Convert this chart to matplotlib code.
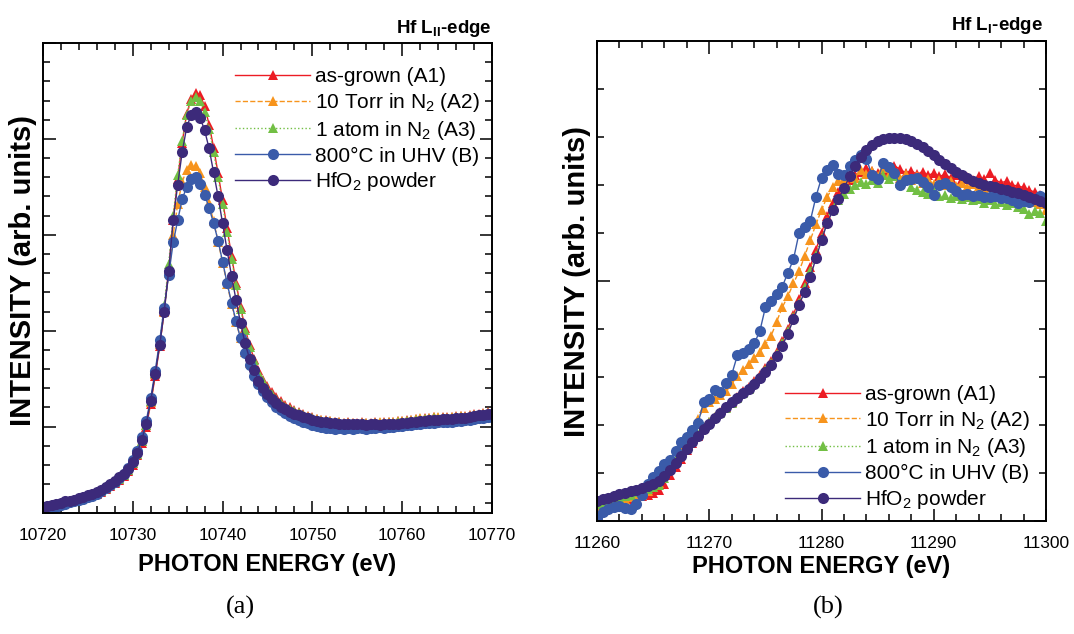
import numpy as np
import matplotlib
matplotlib.use("Agg")
import matplotlib.pyplot as plt
from matplotlib.ticker import MultipleLocator, NullFormatter
from matplotlib import font_manager

plt.rcParams['font.family'] = ['Liberation Sans', 'DejaVu Sans']
plt.rcParams['mathtext.fontset'] = 'custom'
plt.rcParams['mathtext.rm'] = 'Liberation Sans'
plt.rcParams['mathtext.it'] = 'Liberation Sans:italic'
plt.rcParams['mathtext.bf'] = 'Liberation Sans:bold'

# ---------------- data: panel (a) Hf L_II edge ----------------
energy_a = np.arange(10720.0, 10770.01, 0.5)

a1_a = [-0.85, -0.84, -0.83, -0.82, -0.81, -0.80, -0.78, -0.77, -0.76, -0.74,
        -0.73, -0.71, -0.70, -0.68, -0.65, -0.62, -0.59, -0.56, -0.51, -0.46,
        -0.40, -0.30, -0.17, 0.00, 0.24, 0.53, 0.84, 1.21, 1.64, 2.15,
        2.58, 2.96, 3.26, 3.42, 3.48, 3.46, 3.34, 3.15, 2.91, 2.64,
        2.36, 2.07, 1.78, 1.50, 1.25, 1.03, 0.85, 0.71, 0.59, 0.49,
        0.42, 0.36, 0.31, 0.27, 0.23, 0.20, 0.17, 0.15, 0.13, 0.11,
        0.10, 0.08, 0.07, 0.07, 0.06, 0.05, 0.05, 0.04, 0.05, 0.04,
        0.04, 0.05, 0.04, 0.04, 0.05, 0.04, 0.05, 0.05, 0.05, 0.06,
        0.06, 0.07, 0.07, 0.08, 0.08, 0.09, 0.09, 0.10, 0.09, 0.10,
        0.10, 0.10, 0.11, 0.11, 0.11, 0.12, 0.13, 0.13, 0.14, 0.15, 0.15]

a2_a = [-0.84, -0.83, -0.82, -0.81, -0.80, -0.79, -0.77, -0.76, -0.75, -0.73,
        -0.72, -0.70, -0.69, -0.67, -0.64, -0.61, -0.58, -0.54, -0.50, -0.45,
        -0.38, -0.28, -0.15, 0.02, 0.26, 0.55, 0.86, 1.20, 1.60, 2.00,
        2.32, 2.55, 2.68, 2.73, 2.72, 2.64, 2.50, 2.33, 2.14, 1.93,
        1.71, 1.49, 1.28, 1.09, 0.92, 0.78, 0.66, 0.56, 0.48, 0.41,
        0.35, 0.30, 0.26, 0.23, 0.20, 0.17, 0.15, 0.13, 0.11, 0.10,
        0.09, 0.08, 0.07, 0.06, 0.06, 0.05, 0.05, 0.04, 0.04, 0.04,
        0.03, 0.04, 0.04, 0.03, 0.04, 0.05, 0.04, 0.05, 0.05, 0.06,
        0.06, 0.06, 0.07, 0.08, 0.09, 0.08, 0.09, 0.10, 0.10, 0.09,
        0.09, 0.10, 0.10, 0.11, 0.10, 0.11, 0.12, 0.12, 0.13, 0.14, 0.14]

a3_a = [-0.85, -0.84, -0.83, -0.82, -0.81, -0.79, -0.78, -0.77, -0.75, -0.74,
        -0.72, -0.71, -0.69, -0.67, -0.64, -0.61, -0.58, -0.55, -0.50, -0.45,
        -0.38, -0.28, -0.15, 0.02, 0.27, 0.56, 0.88, 1.26, 1.70, 2.20,
        2.62, 2.98, 3.25, 3.40, 3.44, 3.40, 3.28, 3.10, 2.86, 2.60,
        2.32, 2.03, 1.75, 1.48, 1.23, 1.01, 0.83, 0.69, 0.57, 0.48,
        0.40, 0.34, 0.29, 0.25, 0.21, 0.18, 0.16, 0.14, 0.12, 0.10,
        0.09, 0.07, 0.06, 0.06, 0.05, 0.04, 0.04, 0.03, 0.04, 0.03,
        0.03, 0.04, 0.03, 0.03, 0.04, 0.03, 0.04, 0.04, 0.04, 0.05,
        0.05, 0.06, 0.06, 0.07, 0.07, 0.08, 0.08, 0.09, 0.08, 0.09,
        0.09, 0.09, 0.10, 0.10, 0.10, 0.11, 0.12, 0.12, 0.13, 0.14, 0.14]

b_a = [-0.87, -0.86, -0.85, -0.84, -0.82, -0.81, -0.79, -0.78, -0.76, -0.75,
       -0.73, -0.72, -0.70, -0.67, -0.64, -0.61, -0.58, -0.54, -0.49, -0.43,
       -0.35, -0.25, -0.11, 0.06, 0.30, 0.58, 0.90, 1.24, 1.58, 1.92,
       2.15, 2.37, 2.50, 2.58, 2.60, 2.53, 2.42, 2.28, 2.12, 1.94,
       1.72, 1.50, 1.29, 1.10, 0.92, 0.77, 0.64, 0.53, 0.44, 0.37,
       0.31, 0.26, 0.21, 0.17, 0.14, 0.11, 0.09, 0.07, 0.05, 0.04,
       0.02, 0.01, 0.00, -0.01, -0.01, -0.02, -0.01, -0.02, -0.01, -0.02,
       -0.01, -0.01, -0.02, -0.01, -0.01, 0.00, -0.01, 0.00, 0.00, 0.01,
       0.01, 0.02, 0.02, 0.03, 0.03, 0.04, 0.04, 0.04, 0.05, 0.05,
       0.05, 0.05, 0.06, 0.06, 0.07, 0.07, 0.08, 0.09, 0.09, 0.10, 0.10]

hfo2_a = [-0.84, -0.83, -0.82, -0.81, -0.80, -0.78, -0.77, -0.76, -0.74, -0.73,
          -0.71, -0.70, -0.68, -0.66, -0.63, -0.60, -0.57, -0.53, -0.49, -0.44,
          -0.37, -0.27, -0.14, 0.03, 0.27, 0.55, 0.85, 1.20, 1.62, 2.15,
          2.52, 2.86, 3.12, 3.25, 3.28, 3.22, 3.09, 2.90, 2.65, 2.40,
          2.12, 1.84, 1.57, 1.32, 1.08, 0.87, 0.71, 0.59, 0.48, 0.40,
          0.34, 0.29, 0.25, 0.21, 0.18, 0.15, 0.13, 0.12, 0.10, 0.09,
          0.07, 0.06, 0.05, 0.05, 0.04, 0.04, 0.03, 0.03, 0.03, 0.03,
          0.03, 0.03, 0.02, 0.03, 0.03, 0.02, 0.03, 0.03, 0.03, 0.03,
          0.04, 0.04, 0.05, 0.05, 0.06, 0.06, 0.07, 0.07, 0.07, 0.08,
          0.08, 0.08, 0.09, 0.09, 0.09, 0.10, 0.11, 0.12, 0.12, 0.13, 0.13]

# ---------------- data: panel (b) Hf L_I edge ----------------
energy_b = np.arange(11260.0, 11300.01, 0.5)

a1_b = [0.30, 0.33, 0.38, 0.40, 0.42, 0.45, 0.46, 0.50, 0.52, 0.54,
        0.58, 0.64, 0.78, 0.95, 1.12, 1.30, 1.48, 1.63, 1.78, 1.93,
        2.06, 2.17, 2.27, 2.38, 2.48, 2.58, 2.70, 2.80, 2.92, 3.05,
        3.18, 3.33, 3.52, 3.75, 4.00, 4.30, 4.62, 4.95, 5.30, 5.65,
        6.00, 6.35, 6.62, 6.85, 6.98, 7.10, 7.20, 7.27, 7.35, 7.30,
        7.25, 7.32, 7.28, 7.40, 7.33, 7.25, 7.30, 7.22, 7.28, 7.20,
        7.25, 7.18, 7.22, 7.15, 7.20, 7.12, 7.16, 7.10, 7.18, 7.12,
        7.25, 7.10, 7.05, 7.08, 7.00, 6.98, 6.95, 6.90, 6.85, 6.80, 6.72]

a2_b = [0.25, 0.32, 0.35, 0.40, 0.42, 0.46, 0.50, 0.52, 0.55, 0.62,
        0.70, 0.80, 0.95, 1.10, 1.28, 1.50, 1.70, 1.90, 2.12, 2.35,
        2.48, 2.55, 2.62, 2.70, 2.85, 3.02, 3.15, 3.27, 3.40, 3.52,
        3.68, 3.85, 4.15, 4.45, 4.68, 4.95, 5.20, 5.52, 5.85, 6.18,
        6.48, 6.75, 6.95, 7.08, 7.12, 7.20, 7.15, 7.32, 7.22, 7.30,
        7.18, 7.35, 7.20, 7.28, 7.15, 7.22, 7.10, 7.18, 7.05, 7.12,
        7.02, 7.10, 7.00, 7.08, 6.98, 7.05, 6.95, 7.02, 6.98, 6.92,
        6.95, 6.88, 6.90, 6.82, 6.80, 6.78, 6.70, 6.72, 6.65, 6.60, 6.48]

a3_b = [0.35, 0.38, 0.40, 0.44, 0.48, 0.52, 0.55, 0.60, 0.62, 0.66,
        0.70, 0.75, 0.90, 1.08, 1.25, 1.40, 1.55, 1.70, 1.82, 1.95,
        2.06, 2.16, 2.26, 2.36, 2.46, 2.56, 2.66, 2.76, 2.88, 3.00,
        3.14, 3.30, 3.48, 3.70, 3.95, 4.25, 4.55, 4.88, 5.20, 5.55,
        5.90, 6.22, 6.48, 6.68, 6.82, 6.92, 7.00, 7.06, 7.02, 7.10,
        7.05, 7.20, 7.12, 7.18, 7.05, 7.10, 6.95, 6.90, 6.85, 6.82,
        6.88, 6.78, 6.80, 6.72, 6.78, 6.70, 6.75, 6.68, 6.70, 6.62,
        6.68, 6.60, 6.65, 6.58, 6.62, 6.55, 6.50, 6.40, 6.45, 6.42, 6.25]

b_b = [0.06, 0.18, 0.25, 0.30, 0.32, 0.28, 0.25, 0.35, 0.55, 0.78,
       0.92, 1.05, 1.18, 1.28, 1.45, 1.65, 1.75, 1.90, 2.04, 2.48,
       2.55, 2.72, 2.69, 2.88, 3.05, 3.45, 3.50, 3.58, 3.70, 3.95,
       4.45, 4.58, 4.72, 4.88, 5.17, 5.45, 6.00, 6.13, 6.25, 6.75,
       7.15, 7.32, 7.42, 7.22, 7.20, 7.40, 7.52, 7.62, 7.55, 7.20,
       7.12, 7.45, 7.38, 7.25, 7.00, 7.10, 7.12, 7.15, 7.06, 6.95,
       6.80, 7.00, 7.05, 6.95, 6.88, 6.80, 6.82, 6.78, 6.80, 6.76,
       6.75, 6.78, 6.72, 6.73, 6.68, 6.63, 6.66, 6.65, 6.70, 6.78, 6.72]

hfo2_b = [0.42, 0.46, 0.49, 0.52, 0.56, 0.59, 0.62, 0.65, 0.68, 0.72,
          0.77, 0.84, 0.94, 1.06, 1.21, 1.36, 1.51, 1.65, 1.78, 1.91,
          2.03, 2.14, 2.26, 2.37, 2.47, 2.56, 2.66, 2.76, 2.86, 2.97,
          3.10, 3.25, 3.43, 3.65, 3.90, 4.20, 4.50, 4.78, 5.08, 5.47,
          5.85, 6.20, 6.47, 6.70, 6.93, 7.18, 7.40, 7.58, 7.73, 7.84,
          7.92, 7.96, 7.98, 7.99, 7.98, 7.95, 7.91, 7.86, 7.79, 7.71,
          7.62, 7.53, 7.44, 7.35, 7.27, 7.20, 7.14, 7.09, 7.05, 7.01,
          6.98, 6.95, 6.92, 6.89, 6.86, 6.83, 6.79, 6.75, 6.71, 6.67, 6.63]

labels = ['as-grown (A1)', '10 Torr in N$_2$ (A2)', '1 atom in N$_2$ (A3)',
          '800°C in UHV (B)', 'HfO$_2$ powder']
xticks_a = [10720, 10730, 10740, 10750, 10760, 10770]
xticks_b = [11260, 11270, 11280, 11290, 11300]

styles = [
    dict(color='#ec1c24', marker='^', ls='-', ms=7.5),
    dict(color='#f7941d', marker='^', ls='--', ms=7.5),
    dict(color='#72bf44', marker='^', ls=':', ms=7.5),
    dict(color='#3a5ba9', marker='o', ls='-', ms=8),
    dict(color='#3c2a7a', marker='o', ls='-', ms=8),
]

# condensed bold face for the edge titles if available
installed = {f.name for f in font_manager.fontManager.ttflist}
if 'Liberation Sans Narrow' in installed:
    title_family = ['Liberation Sans Narrow', 'DejaVu Sans']
    title_size = 15.5
else:
    title_family = ['Liberation Sans', 'DejaVu Sans']
    title_size = 13.5

fig = plt.figure(figsize=(10.74, 6.34), dpi=100)
ax1 = fig.add_axes([0.0400, 0.1909, 0.4181, 0.7413])
ax2 = fig.add_axes([0.5559, 0.1782, 0.4180, 0.7571])


def draw(ax, x, series):
    for y, st, lab in zip(series, styles, labels):
        ax.plot(x, y, color=st['color'], ls=st['ls'], lw=1.0,
                marker=st['marker'], ms=st['ms'], mew=0, label=lab)


draw(ax1, energy_a, [a1_a, a2_a, a3_a, b_a, hfo2_a])
draw(ax2, energy_b, [a1_b, a2_b, a3_b, b_b, hfo2_b])

ax1.set_xlim(10720, 10770)
ax1.set_ylim(-0.9, 4.0)
ax1.set_xticks(xticks_a)
ax1.xaxis.set_minor_locator(MultipleLocator(2))
ax1.yaxis.set_major_locator(MultipleLocator(1))
ax1.yaxis.set_minor_locator(MultipleLocator(0.2))

ax2.set_xlim(11260, 11300)
ax2.set_ylim(0, 10)
ax2.set_xticks(xticks_b)
ax2.xaxis.set_minor_locator(MultipleLocator(2))
ax2.yaxis.set_major_locator(MultipleLocator(5))
ax2.yaxis.set_minor_locator(MultipleLocator(1))

for ax in (ax1, ax2):
    for s in ax.spines.values():
        s.set_linewidth(1.4)
    ax.tick_params(which='both', direction='in', top=True, right=True,
                   width=1.1, labelsize=12.5, pad=11)
    ax.tick_params(which='major', length=9)
    ax.tick_params(which='minor', length=5)
    ax.yaxis.set_major_formatter(NullFormatter())
    ax.set_xlabel('PHOTON ENERGY (eV)', fontsize=17, fontweight='bold')
    ax.set_ylabel('INTENSITY (arb. units)', fontsize=21, fontweight='bold')

ax1.xaxis.set_label_coords(0.5, -0.085)
ax1.yaxis.set_label_coords(-0.013, 0.515)
ax2.xaxis.set_label_coords(0.5, -0.071)
ax2.yaxis.set_label_coords(-0.014, 0.5)

leg_kw = dict(frameon=False, fontsize=15, handlelength=3.6,
              handletextpad=0.25, labelspacing=0.23, borderpad=0,
              borderaxespad=0, numpoints=1)
ax1.legend(loc='upper left', bbox_to_anchor=(0.428, 0.9485), **leg_kw)
ax2.legend(loc='upper left', bbox_to_anchor=(0.419, 0.2837), **leg_kw)

ax1.text(1.0, 1.021, r'Hf L$_\mathbf{II}$-edge', transform=ax1.transAxes,
         ha='right', va='baseline', fontsize=title_size, fontweight='bold',
         family=title_family)
ax2.text(0.994, 1.023, r'Hf L$_\mathbf{I}$-edge', transform=ax2.transAxes,
         ha='right', va='baseline', fontsize=title_size, fontweight='bold',
         family=title_family)

fig.text(0.2235, 0.0426, '(a)', ha='center', va='center', fontsize=19,
         family=['Liberation Serif', 'DejaVu Serif'])
fig.text(0.771, 0.0426, '(b)', ha='center', va='center', fontsize=19,
         family=['Liberation Serif', 'DejaVu Serif'])

fig.savefig('out.png', dpi=100)
